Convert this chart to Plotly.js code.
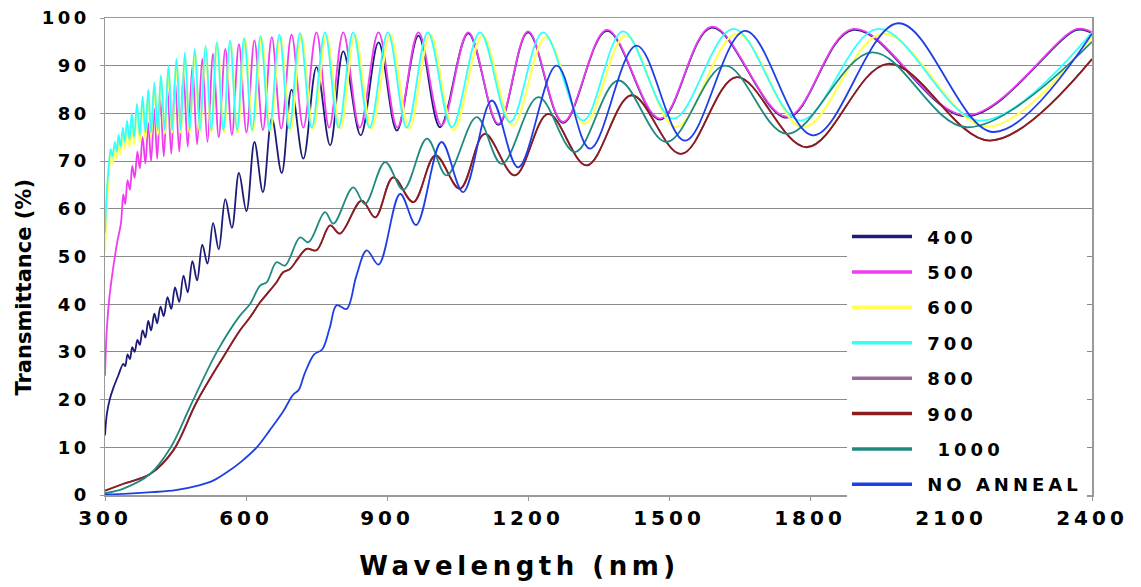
<!DOCTYPE html>
<html>
<head>
<meta charset="utf-8">
<script src="https://cdn.plot.ly/plotly-3.0.1.min.js"></script>
<style>
  html, body { margin: 0; padding: 0; background: #fff; }
  .xtick text { letter-spacing: 4px; }
  .ytick text { letter-spacing: 3.5px; }
  .legendtext { letter-spacing: 4px; }
  .legendlines path { stroke-width: 3.5px !important; }
  .annotation[data-index="0"] .annotation-text { letter-spacing: 4.5px; }
</style>
</head>
<body>
<div id="chart" style="width:1141px;height:587px;"></div>
<script>
// Series names (legend)
const seriesNames = ['\u00a0400', '\u00a0500', '\u00a0600', '\u00a0700', '\u00a0800', '\u00a0900', '\u00a0\u00a01000', '\u00a0NO ANNEAL'];

// 400
const wl400 = [300,304,310,318,328,339,343,348,353,358,363,369,374,380,386,392,398,405,411,418,425,433,441,449,458,467,476,486,496,507,518,530,542,556,570,585,601,618,636,655,676,697,722,750,779,807,844,882,921,967,1013,1073,1137,1200,1275,1368,1481,1591,1751,1892,2133,2368,2400];
const t400 = [12.5,17,20,22.5,25,27.5,27,29.5,28.5,31,30,32.5,31.5,34.5,33,36.5,34.5,38,36,39.5,37.5,41.5,39,43.5,40.5,46,42.5,49,45,52.5,48.5,57,51.5,62,56,67.5,59.5,74,63.5,79,67.5,85,70.5,89.7,73.3,93,75.4,94.9,76.4,96.3,77.1,96.8,77.6,97,78,97.3,78.7,98,79.1,97.5,79.4,97.5,96.8];

// 500
const wl500 = [300,304,310,318,326,334,339,343,348,353,358,363,369,374,380,386,392,398,405,411,418,425,433,441,449,458,467,476,486,496,507,518,530,542,556,570,585,601,618,636,655,675,697,722,750,777,807,842,882,922,967,1016,1073,1137,1200,1275,1368,1481,1591,1751,1892,2133,2368,2400];
const t500 = [25,35,42,48,53,57,63,61,66,64,69,66.5,72,68.5,75,69.5,78,70,81,70.5,83,71,85,71.5,87,72,88.5,73,90,73.5,91.5,74,92.5,75,93.5,75.5,94.5,76,95.3,76.5,96,76.8,96.5,77,97,77,97,77,97,77,97,77.5,97,77.8,97.2,78.2,97.5,78.9,98.2,79.3,97.7,79.6,97.7,97];

// 600
const wl600 = [300,304,308,312,316,321,325,329,333,338,342,347,352,357,362,368,374,380,386,392,398,405,412,419,427,435,443,452,461,470,480,491,502,514,526,539,553,567,582,598,615,633,652,673,695,718,743,771,801,832,867,907,947,992,1042,1103,1168,1238,1320,1408,1515,1645,1785,1955,2176,2400];
const t600 = [51,61,67,71.5,69.5,73,70.5,74.5,71.5,76,72.5,77.5,73,79,73.5,81,74,82.5,74.5,84,75,85.5,75.5,87,75.8,89,76,90.5,76,92,76,93,76,93.8,76,94.5,76,95,76,95.5,76.2,95.8,76.2,96.1,76.5,96.3,76.7,96.5,76.8,96.5,76.8,96.5,76.8,96.5,76.5,96.3,77.5,96,77.8,96.3,77.1,96.7,77.1,96.7,77.2,96];

// 700
const wl700 = [300,304,308,312,316,321,325,329,333,338,342,347,352,357,362,368,374,380,386,392,398,405,412,419,427,435,443,452,461,470,480,491,502,514,526,538,552,566,581,596,613,631,650,671,692,715,740,768,797,828,863,902,942,987,1038,1098,1162,1232,1317,1402,1509,1637,1779,1945,2162,2400];
const t700 = [55,64,69,72.5,71,74,72,75.5,73,77,74,78.5,74.5,80,75,82,75.5,83.5,76,85,76,86.5,76.5,88,76.5,90,76.5,91.5,76.5,92.8,76.5,93.5,76.5,94.2,76.5,94.9,76.5,95.3,76.5,95.8,76.5,96.2,76.5,96.5,76.8,96.8,77,97,77,97,77,97,77,97,77.1,97,78.2,97,78.5,97.2,78.9,97.7,78.5,97.7,78.5,97];

// 800 (lies under the 900 curve)
const wl800 = [300,338,396,445,495,552,587,609,630,651,665,679,694,710,729,750,779,800,846,875,913,956,1003,1055,1108,1172,1243,1325,1420,1526,1644,1793,1966,2183,2400];
const t800 = [0.9,2.3,4.4,9.3,19.5,29,34.5,37.3,40.4,42.9,44.6,46.7,47.4,49.5,51.6,51.3,56.5,54.8,61.7,58.2,66.6,61.4,71.2,64.2,75.7,67,79.9,69.1,83.8,71.5,87.6,72.9,90.4,74.3,91.4];

// 900
const wl900 = [300,338,396,445,495,552,587,609,630,651,665,679,694,710,729,750,779,800,846,875,913,956,1003,1055,1108,1172,1243,1325,1420,1526,1644,1793,1966,2183,2400];
const t900 = [0.9,2.3,4.4,9.3,19.5,29,34.5,37.3,40.4,42.9,44.6,46.7,47.4,49.5,51.6,51.3,56.5,54.8,61.7,58.2,66.6,61.4,71.2,64.2,75.7,67,79.9,69.1,83.8,71.5,87.6,72.9,90.4,74.3,91.4];

// 1000
const wl1000 = [300,338,396,440,481,538,587,609,630,644,665,683,715,733,768,786,828,853,896,935,985,1027,1091,1144,1222,1300,1392,1495,1619,1751,1932,2133,2400];
const t1000 = [0.4,1.3,4.4,10,18.5,30,37.6,40.1,43.9,44.6,48.8,48.1,54,53,59.3,56.9,64.5,61,69.8,64,74.7,67,79.2,69.4,83.4,71.9,86.9,74,90,75.7,92.8,77.1,95];

// NO ANNEAL
const wlNA = [300,350,400,450,500,530,560,590,623,650,679,700,712,725,745,762,778,793,814,835,857,882,928,962,1016,1062,1123,1179,1261,1332,1431,1534,1662,1807,1988,2190,2400];
const tNA = [0.1,0.3,0.6,1.0,2.0,3.0,4.8,7,10,13.5,17.5,21,22,25.5,29.5,30.5,35,39.8,39,46,51.3,48.3,63.1,56.6,74,63.5,82.7,68.7,90,72.6,94.2,74.3,97.3,75.4,98.9,76.1,96.7];

// Axis ticks
const xTicks = [300,600,900,1200,1500,1800,2100,2400];
const yTicks = [0,10,20,30,40,50,60,70,80,90,100];

const xs = [wl400, wl500, wl600, wl700, wl800, wl900, wl1000, wlNA];
const ys = [t400, t500, t600, t700, t800, t900, t1000, tNA];
const colors = ['#1c1c78', '#f03cf0', '#ffff55', '#33ffff', '#9a6a9a', '#8b1c1c', '#1f8a80', '#1f3fe6'];
const widths = [1.8, 1.8, 2.2, 1.8, 1.8, 1.8, 1.8, 1.8];

const traces = seriesNames.map((name, i) => ({
  x: xs[i], y: ys[i], name: name, type: 'scatter', mode: 'lines',
  legendgroup: 'g' + i,
  line: { color: colors[i], width: widths[i], shape: 'spline', smoothing: 1 },
  hoverinfo: 'skip'
}));

const boldFont = (size) => ({ family: 'DejaVu Sans, Liberation Sans, sans-serif', size: size, weight: 'bold', color: '#000' });

const layout = {
  width: 1141, height: 587,
  margin: { l: 105, r: 49, t: 18, b: 92, pad: 0 },
  paper_bgcolor: '#fff', plot_bgcolor: '#fff',
  showlegend: true,
  legend: {
    x: 0.7518, y: 0.58, xanchor: 'left', yanchor: 'top',
    bgcolor: '#fff', borderwidth: 0,
    font: boldFont(18),
    traceorder: 'grouped', tracegroupgap: 9, itemwidth: 60
  },
  xaxis: {
    range: [300, 2400], tickvals: xTicks, ticktext: xTicks.map(String),
    ticks: 'outside', ticklen: 4, tickcolor: '#999',
    showline: true, linecolor: '#999', linewidth: 1.5, mirror: true,
    showgrid: false, zeroline: false,
    tickfont: boldFont(20), ticklabelstandoff: 0
  },
  yaxis: {
    range: [0, 100], tickvals: yTicks, ticktext: yTicks.map(String),
    ticks: 'outside', ticklen: 4, tickcolor: '#999',
    showline: true, linecolor: '#999', linewidth: 1.5, mirror: true,
    showgrid: true, gridcolor: '#8a8a8a', gridwidth: 1.2, zeroline: false,
    tickfont: boldFont(18), ticklabelstandoff: 6
  },
  annotations: [{
    text: 'Wavelength (nm)', xref: 'paper', yref: 'paper',
    x: 0.42, y: -0.1488, xanchor: 'center', yanchor: 'middle',
    showarrow: false, font: boldFont(26)
  }, {
    text: 'Transmittance (%)', xref: 'paper', yref: 'paper',
    x: -0.0821, y: 0.437, xanchor: 'center', yanchor: 'middle', textangle: -90,
    showarrow: false, font: boldFont(21)
  }]
};

Plotly.newPlot('chart', traces, layout, { displayModeBar: false, staticPlot: true });
</script>
</body>
</html>
